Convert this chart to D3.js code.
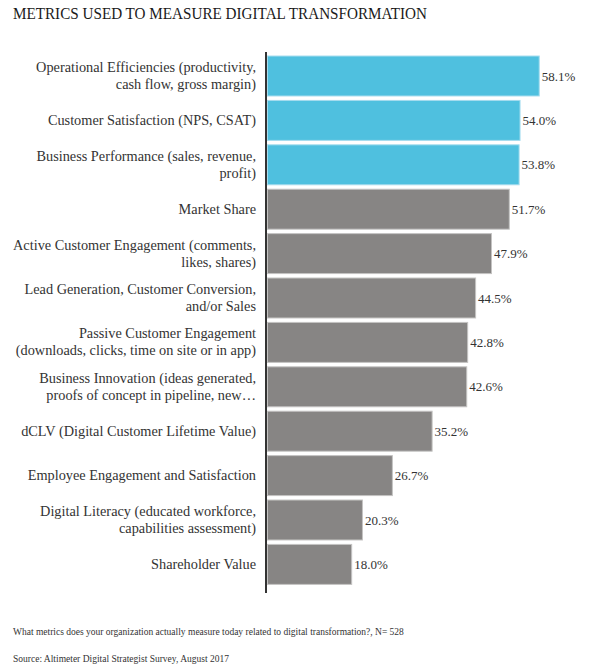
<!DOCTYPE html>
<html>
<head>
<meta charset="utf-8">
<script src="https://cdn.jsdelivr.net/npm/d3@7"></script>
<style>
  body { margin: 0; background: #fff; }
  svg { display: block; }
</style>
</head>
<body>
<svg id="chart" width="599" height="670"></svg>
<script>
const title = "METRICS USED TO MEASURE DIGITAL TRANSFORMATION";
const categories = [
  ["Operational Efficiencies (productivity,", "cash flow, gross margin)"],
  ["Customer Satisfaction (NPS, CSAT)"],
  ["Business Performance (sales, revenue,", "profit)"],
  ["Market Share"],
  ["Active Customer Engagement (comments,", "likes, shares)"],
  ["Lead Generation, Customer Conversion,", "and/or Sales"],
  ["Passive Customer Engagement", "(downloads, clicks, time on site or in app)"],
  ["Business Innovation (ideas generated,", "proofs of concept in pipeline, new\u2026"],
  ["dCLV (Digital Customer Lifetime Value)"],
  ["Employee Engagement and Satisfaction"],
  ["Digital Literacy (educated workforce,", "capabilities assessment)"],
  ["Shareholder Value"]
];
const values = [58.1, 54.0, 53.8, 51.7, 47.9, 44.5, 42.8, 42.6, 35.2, 26.7, 20.3, 18.0];
const highlighted = [true, true, true, false, false, false, false, false, false, false, false, false];
const footnotes = [
  "What metrics does your organization actually measure today related to digital transformation?, N= 528",
  "Source: Altimeter Digital Strategist Survey, August 2017"
];

const svg = d3.select("#chart");
const serif = "'Liberation Serif', 'DejaVu Serif', serif";

svg.append("text")
  .attr("x", 13).attr("y", 19)
  .attr("font-family", serif)
  .attr("font-size", 17)
  .attr("textLength", 414)
  .attr("lengthAdjust", "spacingAndGlyphs")
  .attr("fill", "#1a1a1a")
  .text(title);

const ids = categories.map((c, i) => i);
const x = d3.scaleLinear().domain([0, 60]).range([267, 547.6]);
const y = d3.scaleBand().domain(ids).range([53.8, 586.6]).paddingInner(0.1).paddingOuter(0.05);

const g = svg.append("g");

g.selectAll("rect.bar")
  .data(ids)
  .join("rect")
  .attr("class", "bar")
  .attr("x", x(0) + 0.5)
  .attr("y", i => y(i))
  .attr("width", i => x(values[i]) - x(0))
  .attr("height", y.bandwidth())
  .attr("fill", i => highlighted[i] ? "#4fc0df" : "#878584")
  .attr("stroke", i => highlighted[i] ? "#a5dcee" : "#c4c3c2")
  .attr("stroke-width", 1);

g.selectAll("text.val")
  .data(ids)
  .join("text")
  .attr("class", "val")
  .attr("x", i => x(values[i]) + 3)
  .attr("y", i => y(i) + y.bandwidth() / 2 + 4.5)
  .attr("font-family", serif)
  .attr("font-size", 13)
  .attr("fill", "#333")
  .text(i => values[i].toFixed(1) + "%");

const labels = g.selectAll("text.lab")
  .data(ids)
  .join("text")
  .attr("class", "lab")
  .attr("text-anchor", "end")
  .attr("font-family", serif)
  .attr("font-size", 14.3)
  .attr("fill", "#333");

labels.each(function(i) {
  const lines = categories[i];
  const cy = y(i) + y.bandwidth() / 2;
  const lh = 17;
  const t = d3.select(this);
  lines.forEach((ln, k) => {
    t.append("tspan")
      .attr("x", 256)
      .attr("y", cy + 4.5 + (k - (lines.length - 1) / 2) * lh)
      .text(ln);
  });
});

svg.append("line")
  .attr("x1", 266).attr("x2", 266)
  .attr("y1", 52).attr("y2", 593)
  .attr("stroke", "#333")
  .attr("stroke-width", 2);

svg.selectAll("text.foot")
  .data(footnotes)
  .join("text")
  .attr("class", "foot")
  .attr("x", 13)
  .attr("y", (d, k) => 635 + k * 27)
  .attr("font-family", serif)
  .attr("font-size", 9.5)
  .attr("fill", "#333")
  .text(d => d);
</script>
</body>
</html>
